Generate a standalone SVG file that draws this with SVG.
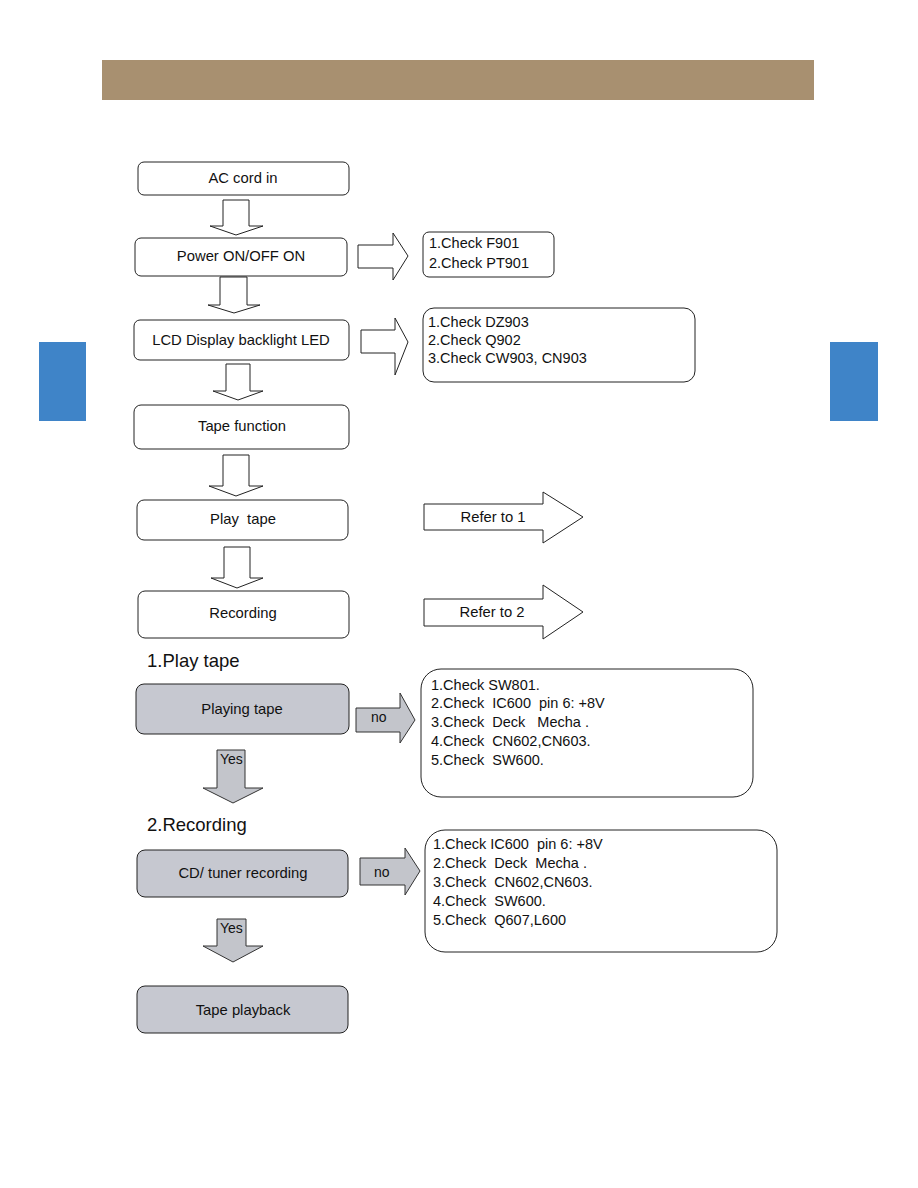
<svg xmlns="http://www.w3.org/2000/svg" width="918" height="1188" viewBox="0 0 918 1188">
<style>
text{font-family:"Liberation Sans",Arial,sans-serif;fill:#111;white-space:pre}
.box{fill:#fff;stroke:#222;stroke-width:1}
.gbox{fill:#c6c8d0;stroke:#222;stroke-width:1}
.harrow{fill:#fff;stroke:#222;stroke-width:1}
.garrow{fill:#c3c5cb;stroke:#333;stroke-width:1}
.lbl{font-size:14.8px;text-anchor:middle}
.chk{font-size:14.5px}
.hd{font-size:18.5px}
.sm{font-size:14px}
</style>
<rect x="102" y="60" width="712" height="40" fill="#a89070"/>
<rect x="39" y="342" width="47" height="79" fill="#3f84c8"/>
<rect x="830" y="342" width="48" height="79" fill="#3f84c8"/>

<g id="connectors">
<path class="harrow" d="M223,200 H249 V226 H263 L236,235 L210,226 H223 Z"/>
<path class="harrow" d="M220,277 H247 V305 H260 L234,313 L208,305 H220 Z"/>
<path class="harrow" d="M226,364 H250 V391 H263 L238,400 L213,391 H226 Z"/>
<path class="harrow" d="M223,455 H249 V486 H263 L236,496 L209,486 H223 Z"/>
<path class="harrow" d="M224,547 H250 V578 H263 L237,588 L211,578 H224 Z"/>
<path class="harrow" d="M358,245 H393 V233 L408,256 L393,280 V268 H358 Z"/>
<path class="harrow" d="M361,330 H395 V318 L408,342 L395,375 V353 H361 Z"/>
<path class="garrow" d="M217,750 H245 V788 H263 L233,803 L203,788 H217 Z"/>
<path class="garrow" d="M217,919 H246 V946 H263 L233,962 L203,946 H217 Z"/>
<path class="garrow" d="M356,708 H400 V693 L415,720 L400,743 V732 H356 Z"/>
<path class="garrow" d="M360,858 H405 V848 L420,871 L405,895 V885 H360 Z"/>
<text class="sm" x="220" y="764">Yes</text>
<text class="sm" x="220" y="933">Yes</text>
<text class="sm" x="371" y="722">no</text>
<text class="sm" x="374" y="877">no</text>
</g>

<g id="ref1">
<path class="harrow" d="M424,504 H543 V492 L583,517 L543,543 V530 H424 Z"/>
<text class="lbl" x="493" y="522">Refer to 1</text>
</g>
<g id="ref2">
<path class="harrow" d="M424,599 H543 V585 L583,612 L543,639 V626 H424 Z"/>
<text class="lbl" x="492" y="617">Refer to 2</text>
</g>

<g id="n-ac">
<rect class="box" x="138" y="162" width="211" height="33" rx="6"/>
<text class="lbl" x="243" y="183">AC cord in</text>
</g>
<g id="n-power">
<rect class="box" x="135" y="238" width="212" height="38" rx="6"/>
<text class="lbl" x="241" y="261">Power ON/OFF ON</text>
</g>
<g id="n-lcd">
<rect class="box" x="134" y="320" width="215" height="40" rx="6"/>
<text class="lbl" x="241" y="345">LCD Display backlight LED</text>
</g>
<g id="n-tapefn">
<rect class="box" x="134" y="405" width="215" height="44" rx="7"/>
<text class="lbl" x="242" y="431">Tape function</text>
</g>
<g id="n-play">
<rect class="box" x="137" y="500" width="211" height="40" rx="7"/>
<text class="lbl" x="243" y="524">Play  tape</text>
</g>
<g id="n-rec">
<rect class="box" x="138" y="591" width="211" height="47" rx="7"/>
<text class="lbl" x="243" y="618">Recording</text>
</g>

<g id="c-f901">
<rect class="box" x="423" y="232" width="131" height="45" rx="6"/>
<text class="chk" x="429" y="248">1.Check F901</text>
<text class="chk" x="429" y="268">2.Check PT901</text>
</g>
<g id="c-dz903">
<rect class="box" x="423" y="308" width="272" height="74" rx="11"/>
<text class="chk" x="428" y="327">1.Check DZ903</text>
<text class="chk" x="428" y="345">2.Check Q902</text>
<text class="chk" x="428" y="363">3.Check CW903, CN903</text>
</g>

<text class="hd" x="147" y="667">1.Play tape</text>
<text class="hd" x="147" y="831">2.Recording</text>

<g id="n-playing">
<rect class="gbox" x="136" y="684" width="213" height="50" rx="8"/>
<text class="lbl" x="242" y="714">Playing tape</text>
</g>
<g id="c-play">
<rect class="box" x="421" y="669" width="332" height="128" rx="20"/>
<text class="chk" x="431" y="690">1.Check SW801.</text>
<text class="chk" x="431" y="708">2.Check  IC600  pin 6: +8V</text>
<text class="chk" x="431" y="727">3.Check  Deck   Mecha .</text>
<text class="chk" x="431" y="746">4.Check  CN602,CN603.</text>
<text class="chk" x="431" y="765">5.Check  SW600.</text>
</g>

<g id="n-cdrec">
<rect class="gbox" x="137" y="850" width="211" height="47" rx="8"/>
<text class="lbl" x="243" y="878">CD/ tuner recording</text>
</g>
<g id="c-rec">
<rect class="box" x="425" y="830" width="352" height="122" rx="20"/>
<text class="chk" x="433" y="849">1.Check IC600  pin 6: +8V</text>
<text class="chk" x="433" y="868">2.Check  Deck  Mecha .</text>
<text class="chk" x="433" y="887">3.Check  CN602,CN603.</text>
<text class="chk" x="433" y="906">4.Check  SW600.</text>
<text class="chk" x="433" y="925">5.Check  Q607,L600</text>
</g>
<g id="n-playback">
<rect class="gbox" x="137" y="986" width="211" height="47" rx="8"/>
<text class="lbl" x="243" y="1015">Tape playback</text>
</g>
</svg>
